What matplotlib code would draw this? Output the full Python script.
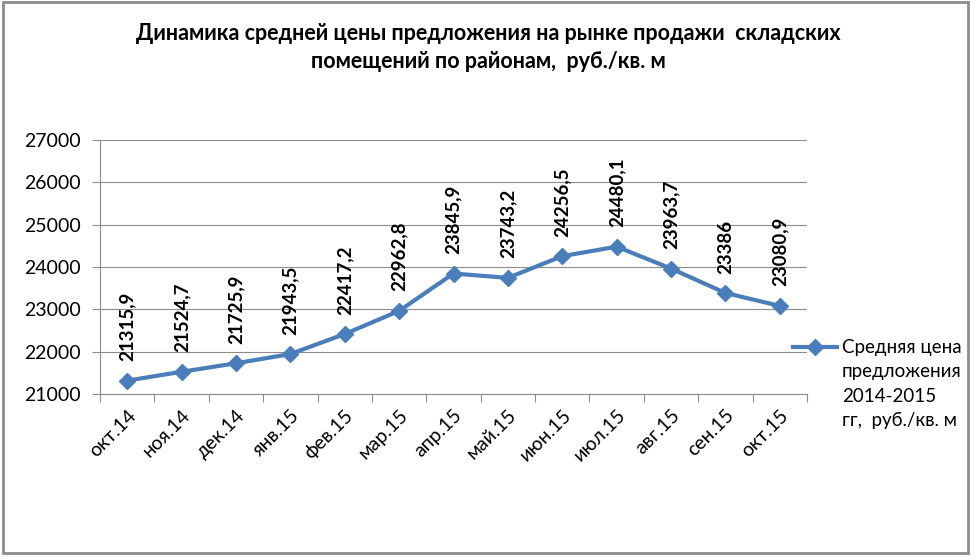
import matplotlib.pyplot as plt

months = ['окт.14', 'ноя.14', 'дек.14', 'янв.15', 'фев.15', 'мар.15', 'апр.15',
          'май.15', 'июн.15', 'июл.15', 'авг.15', 'сен.15', 'окт.15']
prices = [21315.9, 21524.7, 21725.9, 21943.5, 22417.2, 22962.8, 23845.9,
          23743.2, 24256.5, 24480.1, 23963.7, 23386, 23080.9]
labels = ['21315,9', '21524,7', '21725,9', '21943,5', '22417,2', '22962,8', '23845,9',
          '23743,2', '24256,5', '24480,1', '23963,7', '23386', '23080,9']
legend_lines = ['Средняя цена', 'предложения', '2014-2015', 'гг,  руб./кв. м']

plt.rcParams['font.family'] = ['Lato', 'DejaVu Sans']

fig = plt.figure(figsize=(9.77, 5.6), dpi=100)
ax = fig.add_axes([100 / 977, 1 - 394 / 560, 707 / 977, 254 / 560])

x = range(len(months))
ax.plot(x, prices, color='#4A7EBB', lw=3, marker='D', ms=8, label=legend_lines[0])

for i, (p, t) in enumerate(zip(prices, labels)):
    ax.annotate(t, (i, p), xytext=(0, 14), textcoords='offset points',
                rotation=90, ha='center', va='bottom', fontsize=13.5, fontweight='bold')

ax.set_xlim(-0.5, len(months) - 0.5)
ax.set_ylim(21000, 27000)
ax.set_yticks(range(21000, 27001, 1000))
ax.yaxis.grid(True, color='#8c8c8c', lw=0.8)
ax.set_axisbelow(True)

ax.set_xticks([i - 0.5 for i in range(len(months) + 1)], minor=False)
ax.set_xticklabels([])
ax.set_xticks(list(x), minor=True)
ax.set_xticklabels(months, minor=True, rotation=45, ha='right', rotation_mode='anchor',
                   fontsize=14)
ax.tick_params(axis='x', which='minor', length=0, pad=9)
ax.tick_params(axis='x', which='major', length=6, color='#8c8c8c')
ax.tick_params(axis='y', length=6, color='#8c8c8c', labelsize=14, pad=8)

for s in ['top', 'right']:
    ax.spines[s].set_visible(False)
for s in ['left', 'bottom']:
    ax.spines[s].set_color('#8c8c8c')

ax.legend(loc='center left', bbox_to_anchor=(793 / 977, 1 - 348 / 560),
          bbox_transform=fig.transFigure, frameon=False, fontsize=13.5,
          handlelength=2.35, handletextpad=0.27, borderpad=0, borderaxespad=0)
for k, t in enumerate(legend_lines[1:]):
    fig.text(842 / 977, 1 - (372 + 24 * k) / 560, t, ha='left', va='center', fontsize=13.5)

fig.text(0.5, 1 - 33 / 560, 'Динамика средней цены предложения на рынке продажи  складских',
         ha='center', va='center', fontsize=15.5, fontweight='bold')
fig.text(0.5, 1 - 62 / 560, 'помещений по районам,  руб./кв. м',
         ha='center', va='center', fontsize=15.5, fontweight='bold')

border = plt.Rectangle((3 / 977, 1 - 553 / 560), 965 / 977, 551 / 560,
                       transform=fig.transFigure, fill=False, ec='#8c8c8c', lw=2)
fig.patches.append(border)

plt.savefig('out.png', dpi=100)
